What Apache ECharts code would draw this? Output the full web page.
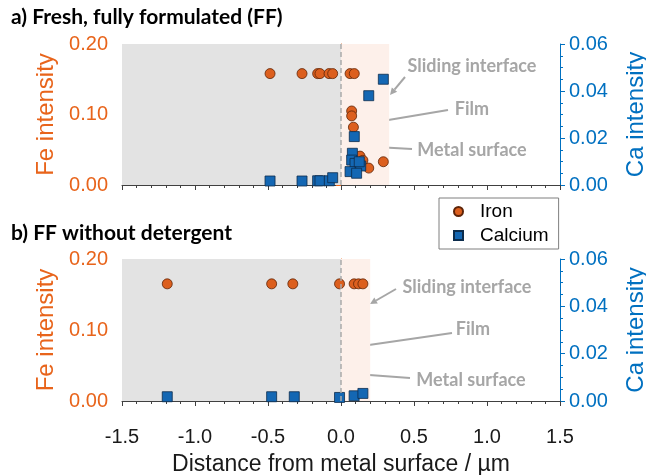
<!DOCTYPE html>
<html>
<head>
<meta charset="utf-8">
<script src="https://cdn.jsdelivr.net/npm/echarts@6/dist/echarts.min.js"></script>
<style>
  html, body { margin: 0; padding: 0; background: #ffffff; }
  #chart { width: 646px; height: 475px; }
</style>
</head>
<body>
<div id="chart"></div>
<script>
// ---- Panel a) fresh, fully formulated oil ----
const ffIronX = [-0.486, -0.267, -0.160, -0.144, -0.082, -0.057, 0.062, 0.091, 0.073, 0.073, 0.085, 0.130, 0.150, 0.190, 0.290];
const ffIronY = [0.158, 0.158, 0.158, 0.158, 0.158, 0.158, 0.158, 0.158, 0.105, 0.098, 0.082, 0.041, 0.035, 0.024, 0.033];
const ffCalciumX = [-0.486, -0.267, -0.160, -0.144, -0.080, -0.057, 0.091, 0.078, 0.073, 0.096, 0.135, 0.125, 0.062, 0.107, 0.190, 0.290];
const ffCalciumY = [0.0017, 0.0017, 0.0018, 0.0018, 0.0018, 0.0031, 0.0206, 0.0135, 0.0106, 0.0092, 0.0081, 0.0099, 0.0057, 0.0050, 0.0380, 0.0450];

// ---- Panel b) FF without detergent ----
const ndIronX = [-1.19, -0.475, -0.33, -0.01, 0.09, 0.12, 0.15];
const ndIronY = [0.165, 0.165, 0.165, 0.165, 0.165, 0.165, 0.165];
const ndCalciumX = [-1.19, -0.475, -0.32, -0.01, 0.09, 0.15];
const ndCalciumY = [0.0018, 0.0018, 0.0018, 0.0015, 0.0022, 0.0032];

// zone boundaries (µm): metal bulk ends at the surface, film thickness per panel
const bulkStart = -1.5;
const surfaceAt = 0;
const filmEnd = [0.33, 0.20];

// axis ranges
const xRange = [-1.5, 1.5], xStep = 0.5;
const feRange = [0, 0.2], feStep = 0.1;
const caRange = [0, 0.06], caStep = 0.02;

const panelTitles = ['a) Fresh, fully formulated (FF)', 'b) FF without detergent'];
const legendNames = ['Iron', 'Calcium'];

const ORANGE = '#E8641B';
const BLUE = '#0070C0';
const IRON_FILL = '#DC5F1E';
const CA_FILL = '#1467B3';
const NOTE = '#A6A6A6';

const zip = (xs, ys) => xs.map((x, i) => [x, ys[i]]);

const grids = [
  { left: 122, right: 86, top: 44, height: 141, outerBoundsMode: 'none', containLabel: false },
  { left: 122, right: 86, top: 259, height: 142, outerBoundsMode: 'none', containLabel: false }
];

function xAxisFor(i, showLabels) {
  return {
    type: 'value', gridIndex: i, min: xRange[0], max: xRange[1], interval: xStep,
    axisLine: { show: true, onZero: false, lineStyle: { color: '#404040', width: 1 } },
    axisTick: { show: true, length: 5, lineStyle: { color: '#404040' } },
    minorTick: { show: true, splitNumber: 5, length: 3, lineStyle: { color: '#404040' } },
    splitLine: { show: false },
    axisLabel: {
      show: showLabels, formatter: v => v.toFixed(1), color: '#1a1a1a',
      fontSize: 20, fontFamily: 'Liberation Sans', margin: 26
    },
    name: showLabels ? 'Distance from metal surface / µm' : '',
    nameLocation: 'middle', nameGap: 52,
    nameTextStyle: { fontSize: 23, fontFamily: 'Liberation Sans', color: '#1a1a1a' }
  };
}

function yAxisFor(i, side) {
  const fe = side === 'left';
  const color = fe ? ORANGE : BLUE;
  const range = fe ? feRange : caRange;
  return {
    type: 'value', gridIndex: i, position: side,
    min: range[0], max: range[1], interval: fe ? feStep : caStep,
    axisLine: { show: true, lineStyle: { color: color, width: 1 } },
    axisTick: { show: true, length: 5, lineStyle: { color: color } },
    minorTick: { show: true, splitNumber: fe ? 5 : 4, length: 3, lineStyle: { color: color } },
    splitLine: { show: false },
    axisLabel: {
      formatter: v => v.toFixed(2), color: color,
      fontSize: 20, fontFamily: 'Liberation Sans', margin: fe ? 14 : 9
    },
    name: fe ? 'Fe intensity' : 'Ca intensity',
    nameLocation: 'middle', nameGap: fe ? 60 : 64,
    nameTextStyle: { fontSize: 24, fontFamily: 'Liberation Sans', color: color }
  };
}

function ironSeries(i, data) {
  return {
    name: 'Iron', type: 'scatter', xAxisIndex: i, yAxisIndex: i * 2,
    data: data, symbol: 'circle', symbolSize: 10, z: 3,
    itemStyle: { color: IRON_FILL, borderColor: '#5e2408', borderWidth: 0.8, opacity: 1 },
    markArea: {
      silent: true,
      data: [
        [{ xAxis: bulkStart, itemStyle: { color: '#E3E3E3' } }, { xAxis: surfaceAt }],
        [{ xAxis: surfaceAt, itemStyle: { color: '#FDF0EA' } }, { xAxis: filmEnd[i] }]
      ]
    },
    markLine: {
      silent: true, symbol: 'none', label: { show: false },
      lineStyle: { color: '#ABABAB', type: [5, 3], width: 1.5 },
      data: [{ xAxis: surfaceAt }]
    }
  };
}

function calciumSeries(i, data) {
  return {
    name: 'Calcium', type: 'scatter', xAxisIndex: i, yAxisIndex: i * 2 + 1,
    data: data, symbol: 'rect', symbolSize: 10, z: 4,
    itemStyle: { color: CA_FILL, borderColor: '#0c2c4c', borderWidth: 0.8, opacity: 1 }
  };
}

// gray annotation arrow: shaft plus a filled head at (x2, y2)
function arrow(x1, y1, x2, y2) {
  const a = Math.atan2(y2 - y1, x2 - x1);
  const L = 7, W = 3.5;
  const bx = x2 - L * Math.cos(a), by = y2 - L * Math.sin(a);
  const nx = -Math.sin(a) * W, ny = Math.cos(a) * W;
  return [
    { type: 'line', silent: true, shape: { x1: x1, y1: y1, x2: bx, y2: by },
      style: { stroke: NOTE, lineWidth: 2 } },
    { type: 'polygon', silent: true,
      shape: { points: [[x2, y2], [bx + nx, by + ny], [bx - nx, by - ny]] },
      style: { fill: NOTE } }
  ];
}

function note(text, x, y) {
  return {
    type: 'text', silent: true, x: x, y: y,
    style: { text: text, align: 'center', verticalAlign: 'middle',
             font: 'bold 18px Lato', fill: NOTE }
  };
}

const notes = [
  note('Metal bulk', 232, 112),
  note('Sliding interface', 472, 66),
  note('Film', 472, 109),
  note('Metal surface', 472, 150),
  ...arrow(405, 77, 390, 95),
  ...arrow(448, 110, 377, 122),
  ...arrow(412, 149, 342, 145),

  note('Metal bulk', 231, 333),
  note('Sliding interface', 467, 287),
  note('Film', 473, 329),
  note('Metal surface', 471, 380),
  ...arrow(396, 289, 370, 304),
  ...arrow(452, 333, 362, 346),
  ...arrow(410, 378, 342, 373)
];

const chart = echarts.init(document.getElementById('chart'), null, { renderer: 'canvas' });
chart.setOption({
  animation: false,
  backgroundColor: '#ffffff',
  title: [
    { text: panelTitles[0], left: 6, top: 2,
      textStyle: { fontFamily: 'Lato', fontWeight: 'bold', fontSize: 21, color: '#000' } },
    { text: panelTitles[1], left: 6, top: 218,
      textStyle: { fontFamily: 'Lato', fontWeight: 'bold', fontSize: 21, color: '#000' } }
  ],
  legend: {
    orient: 'vertical', left: 439, top: 198,
    data: [{ name: legendNames[0], icon: 'circle' }, { name: legendNames[1], icon: 'rect' }],
    itemWidth: 9, itemHeight: 9, itemGap: 5,
    padding: [4, 10, 4, 14],
    borderColor: '#7f7f7f', borderWidth: 1, borderRadius: 0,
    backgroundColor: '#ffffff',
    textStyle: { fontSize: 19, fontFamily: 'Liberation Sans', color: '#000', padding: [0, 0, 0, 12] }
  },
  grid: grids,
  xAxis: [xAxisFor(0, false), xAxisFor(1, true)],
  yAxis: [yAxisFor(0, 'left'), yAxisFor(0, 'right'), yAxisFor(1, 'left'), yAxisFor(1, 'right')],
  series: [
    ironSeries(0, zip(ffIronX, ffIronY)),
    calciumSeries(0, zip(ffCalciumX, ffCalciumY)),
    ironSeries(1, zip(ndIronX, ndIronY)),
    calciumSeries(1, zip(ndCalciumX, ndCalciumY))
  ],
  graphic: notes
});
</script>
</body>
</html>
